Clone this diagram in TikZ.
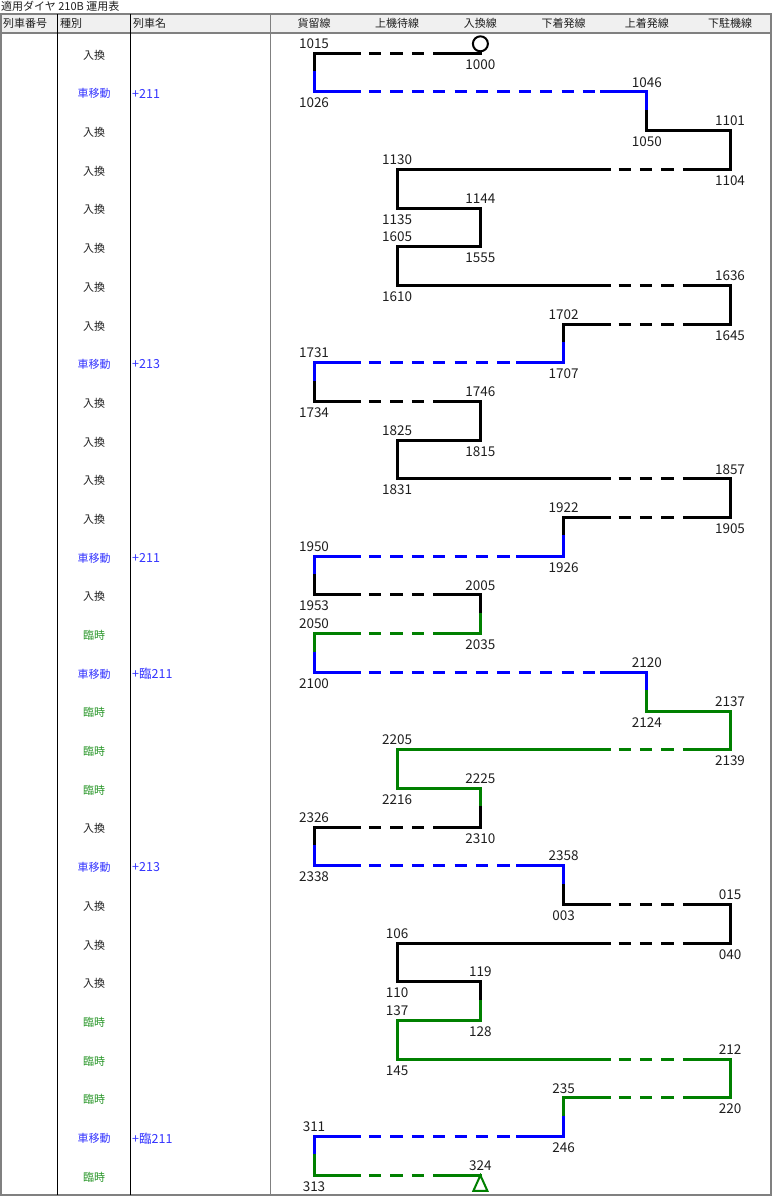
\documentclass[tikz,border=0pt]{standalone}
\usepackage{fontspec}
\setmainfont{Noto Sans CJK JP}
\usepackage{tikz}
\definecolor{hd}{RGB}{240,240,240}
\definecolor{fr}{RGB}{128,128,128}
\definecolor{mv}{RGB}{0,0,255}
\definecolor{tm}{RGB}{0,128,0}
\definecolor{mvt}{RGB}{51,51,255}
\definecolor{tmt}{RGB}{40,150,40}
\definecolor{ink}{RGB}{30,30,30}
\usetikzlibrary{positioning}

\begin{document}
\begin{tikzpicture}
				[x=1pt,y=-1pt,every node/.style={inner sep=0pt,font=\fontsize{11}{13}\selectfont,text=ink},
				 trk/.style={line width=3pt,line cap=rect},
				 gapline/.style={line width=3pt,dash pattern=on 12.2pt off 9.2pt,dash phase=12.2pt},
				 tlbl/.style={font=\fontsize{13.5}{15}\selectfont}]
				\useasboundingbox (0,0) rectangle (778,1200);
				% table frame
				\node (title) [anchor=west] at (1,6.5) {適用ダイヤ 210B 運用表};
				\fill [hd] (1,14) rectangle (771,33);
				\draw [line width=1.5, color=fr] (1,14) rectangle (771,1195);
				\draw [line width=1.5, color=fr] (1,33) -- (771,33);
				\draw [line width=1, color=black] (57.7,14) -- (57.7,1195);
				\draw [line width=1, color=black] (130,14) -- (130,1195);
				\draw [line width=1.5, color=fr] (270.7,14) -- (270.7,1195);
				\node (h1) [anchor=west] at (3,23.5) {列車番号};
				\node (h2) [anchor=west] at (60,23.5) {種別};
				\node (h3) [anchor=west] at (133,23.5) {列車名};
				\foreach \k/\n in {0/貨留線,1/上機待線,2/入換線,3/下着発線,4/上着発線,5/下駐機線}
					\node (c\k) at ({314+83.2*\k},23.5) {\n};
				% kinds and names
				\foreach \i/\c/\k in {0/ink/入換,1/mvt/車移動,2/ink/入換,3/ink/入換,4/ink/入換,5/ink/入換,
					6/ink/入換,7/ink/入換,8/mvt/車移動,9/ink/入換,10/ink/入換,11/ink/入換,12/ink/入換,
					13/mvt/車移動,14/ink/入換,15/tmt/臨時,16/mvt/車移動,17/tmt/臨時,18/tmt/臨時,19/tmt/臨時,
					20/ink/入換,21/mvt/車移動,22/ink/入換,23/ink/入換,24/ink/入換,25/tmt/臨時,26/tmt/臨時,
					27/tmt/臨時,28/mvt/車移動,29/tmt/臨時}
					\node (k\i) [text=\c] at (94,{55+38.69*\i}) {\k};
				\foreach \i/\n in {1/+211,8/+213,13/+211,16/+臨211,21/+213,28/+臨211}
					\node (n\i) [anchor=west, text=mvt, font=\fontsize{12.5}{14}\selectfont] at (132,{55+38.69*\i}) {\n};
				% moves: row/from/to/colour/dep/arr/dashed cols
				\foreach \i/\a/\b/\c/\ta/\tb/\da/\db in {
					0/2/0/black/1000/1015/1/1, 1/0/4/mv/1026/1046/1/3, 2/4/5/black/1050/1101/0/0,
					3/5/1/black/1104/1130/4/4, 4/1/2/black/1135/1144/0/0, 5/2/1/black/1555/1605/0/0,
					6/1/5/black/1610/1636/4/4, 7/5/3/black/1645/1702/4/4, 8/3/0/mv/1707/1731/1/2,
					9/0/2/black/1734/1746/1/1, 10/2/1/black/1815/1825/0/0, 11/1/5/black/1831/1857/4/4,
					12/5/3/black/1905/1922/4/4, 13/3/0/mv/1926/1950/1/2, 14/0/2/black/1953/2005/1/1,
					15/2/0/tm/2035/2050/1/1, 16/0/4/mv/2100/2120/1/3, 17/4/5/tm/2124/2137/0/0,
					18/5/1/tm/2139/2205/4/4, 19/1/2/tm/2216/2225/0/0, 20/2/0/black/2310/2326/1/1,
					21/0/3/mv/2338/2358/1/2, 22/3/5/black/003/015/4/4, 23/5/1/black/040/106/4/4,
					24/1/2/black/110/119/0/0, 25/2/1/tm/128/137/0/0, 26/1/5/tm/145/212/4/4,
					27/5/3/tm/220/235/4/4, 28/3/0/mv/246/311/1/2, 29/0/2/tm/313/324/1/1}
				{
					\pgfmathsetmacro\ry{53.3+38.69*\i}
					\coordinate (s\i) at ({314+83.2*\a},\ry);
					\coordinate (e\i) at ({314+83.2*\b},\ry);
					\coordinate (l\i) at ({314+83.2*min(\a,\b)},\ry);
					\coordinate (r\i) at ({314+83.2*max(\a,\b)},\ry);
					\ifnum\da=0
						\draw [trk, color=\c] (l\i) to (r\i);
					\else
						\coordinate (p\i) at ({314+83.2*(\da-0.45)},\ry);
						\coordinate (q\i) at ({314+83.2*(\db+0.45)},\ry);
						\draw [trk, color=\c] (l\i) to (p\i);
						\draw [gapline, color=\c] (p\i) to (q\i);
						\draw [trk, color=\c] (q\i) to (r\i);
					\fi
					\ifnum\i>0
						\pgfmathtruncatemacro\h{\i-1}
						\draw [trk, color=\c] (m\h) to (s\i);
					\fi
					\ifnum\i<29
						\coordinate (m\i) at ({314+83.2*\b},{\ry+19.345});
						\draw [trk, color=\c] (e\i) to (m\i);
					\fi
					\node (d\i) [tlbl, below=6pt of s\i] {\ta};
					\node (a\i) [tlbl, above=4.5pt of e\i] {\tb};
				}
				% start and end marks
				\node (start) [circle, minimum size=15pt, line width=2pt, draw=black, fill=white, above=1pt of s0] {};
				\draw [line width=2pt, color=tm, fill=white, line join=miter] (e29) -- ++(-7,15.5) -- ++(14,0) -- cycle;
		\end{tikzpicture}
\end{document}
